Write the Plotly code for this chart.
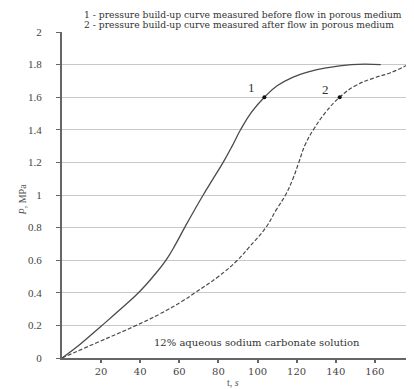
import plotly.graph_objects as go

# Curve 1: measured before flow in porous medium
t1 = [0, 9.3, 20, 30, 39.5, 46.6, 53.2, 58.2, 62.7, 67.4, 72.2, 77.3, 82.4, 87, 91.3, 97, 103.5, 110, 117.6, 126, 135, 148, 163]
p1 = [0, 0.085, 0.195, 0.30, 0.405, 0.5, 0.6, 0.7, 0.8, 0.9, 1.0, 1.1, 1.2, 1.3, 1.4, 1.51, 1.6, 1.67, 1.72, 1.755, 1.78, 1.80, 1.80]

# Curve 2: measured after flow in porous medium
t2 = [0, 18, 38, 50, 61, 68, 80, 89.7, 95.7, 104.2, 109.6, 114.3, 118.1, 121.1, 124.4, 128.8, 135, 142, 150, 160, 168, 178.6]
p2 = [0, 0.095, 0.2, 0.27, 0.345, 0.4, 0.5, 0.6, 0.68, 0.8, 0.91, 1.0, 1.10, 1.2, 1.31, 1.405, 1.51, 1.6, 1.67, 1.72, 1.75, 1.81]

# Marked points
mark_t = [103.5, 142]
mark_p = [1.6, 1.6]
mark_labels = ["1", "2"]
label_t = [96.7, 134.9]
label_p = [1.66, 1.65]

x_ticks = [20, 40, 60, 80, 100, 120, 140, 160, 180]
y_ticks = [0, 0.2, 0.4, 0.6, 0.8, 1, 1.2, 1.4, 1.6, 1.8, 2]
y_ticktext = ["0", "0.2", "0.4", "0.6", "0.8", "1", "1.2", "1.4", "1.6", "1.8", "2"]

line_col = "#4a4a4a"
serif = "Liberation Serif"
serif2 = "DejaVu Serif"

fig = go.Figure()
fig.add_trace(go.Scatter(x=t1, y=p1, mode="lines",
                         line=dict(color=line_col, width=1.3, shape="spline", smoothing=1.3),
                         showlegend=False, hoverinfo="skip"))
fig.add_trace(go.Scatter(x=t2, y=p2, mode="lines",
                         line=dict(color=line_col, width=1.2, dash="4px,2px", shape="spline", smoothing=1.3),
                         showlegend=False, hoverinfo="skip"))
fig.add_trace(go.Scatter(x=mark_t, y=mark_p, mode="markers",
                         marker=dict(color="#111", size=4),
                         showlegend=False, hoverinfo="skip"))

for lt, lp, lab in zip(label_t, label_p, mark_labels):
    fig.add_annotation(x=lt, y=lp, text=lab, showarrow=False,
                       font=dict(family=serif, size=13, color="#333"))

fig.add_annotation(x=99.7, y=0.094, text="12% aqueous sodium carbonate solution",
                   showarrow=False, font=dict(family=serif2, size=10, color="#333"))

fig.add_annotation(xref="paper", yref="paper", x=0.057, y=1.0, yshift=18,
                   xanchor="left", yanchor="middle", align="left",
                   text="1 - pressure build-up curve measured before flow in porous medium",
                   showarrow=False, font=dict(family=serif2, size=9.2, color="#333"))
fig.add_annotation(xref="paper", yref="paper", x=0.057, y=1.0, yshift=8,
                   xanchor="left", yanchor="middle", align="left",
                   text="2 - pressure build-up curve measured after flow in porous medium",
                   showarrow=False, font=dict(family=serif2, size=9.2, color="#333"))

# Axis titles
fig.add_annotation(xref="paper", yref="paper", x=0.487, y=0, yshift=-24,
                   yanchor="middle",
                   text="t, <i>s</i>", showarrow=False,
                   font=dict(family=serif, size=10, color="#555"))
fig.add_annotation(xref="paper", yref="paper", x=0, xshift=-47, y=0.485,
                   text="<i>P</i>, MPa", textangle=-90, showarrow=False,
                   font=dict(family=serif, size=10, color="#555"))

fig.update_xaxes(range=[0, 180], tickvals=x_ticks, showgrid=False, zeroline=False,
                 automargin=False,
                 showline=True, linecolor="#666", linewidth=2,
                 ticks="outside", ticklen=3, tickcolor="#666", tickwidth=2,
                 tickfont=dict(family=serif2, size=10, color="#444"))
fig.update_yaxes(range=[0, 2], tickvals=y_ticks, ticktext=y_ticktext,
                 automargin=False,
                 showgrid=True, gridcolor="#c8c8c8", gridwidth=1, zeroline=False,
                 showline=True, linecolor="#666", linewidth=2,
                 ticks="outside", ticklen=4, tickcolor="#666", tickwidth=1,
                 ticklabelstandoff=12,
                 tickfont=dict(family=serif, size=11, color="#444"))

# page body has an 8px margin: figure sized to fit the 414x389 window
fig.update_layout(width=406, height=381,
                  margin=dict(l=54, r=0, t=24, b=31),
                  plot_bgcolor="white", paper_bgcolor="white")

fig.write_html("out.html")
